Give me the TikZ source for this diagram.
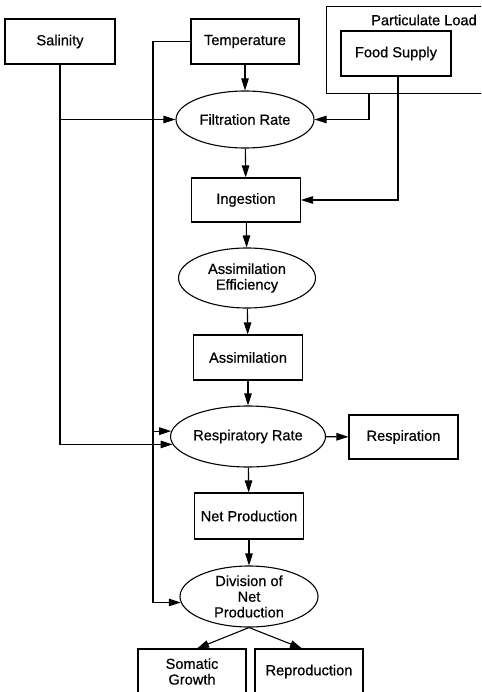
\documentclass[tikz,border=0pt]{standalone}
\usepackage{fontspec}
\setmainfont[FakeBold=0.6]{Liberation Sans}
\usetikzlibrary{shapes.geometric,arrows.meta}
\begin{document}
\begin{tikzpicture}[x=1pt,y=-1pt,line width=1.1pt,font=\fontsize{14.6}{15.7}\selectfont]
\tikzstyle{box}=[draw,rectangle,minimum width=109,minimum height=45,inner sep=0,align=center]
\tikzstyle{rate}=[draw,ellipse,minimum width=137,minimum height=60,inner sep=0,align=center]
\tikzstyle{arr}=[-{Triangle[length=12pt,width=7.5pt]}]
\useasboundingbox (0,0) rectangle (481,692);
\clip (0,0) rectangle (481,692);
\node[box,minimum width=110] at (60,41.5) (salinity) {Salinity};
\node[box,minimum width=108] at (245,41.5) (temp) {Temperature};
\node[rectangle,minimum width=220,minimum height=86] at (437,50) (load) {};
\draw (load.north east) -- (load.north west) -- (load.south west) -- (load.south east);
\node at (424,20) (loadtext) {Particulate Load};
\node[box,minimum width=110] at (396,53.5) (food) {Food Supply};
\node[rate,minimum width=138,minimum height=57] at (245,119.5) (filt) {Filtration Rate};
\node[box,minimum height=44] at (246,200) (ingest) {Ingestion};
\node[rate] at (247,278) (assimeff) {Assimilation\\Efficiency};
\node[box] at (248,357.5) (assim) {Assimilation};
\node[rate,minimum height=61] at (248,436.5) (resprate) {Respiratory Rate};
\node[box,minimum height=44] at (403.5,437) (resp) {Respiration};
\node[box,minimum height=46] at (249,516) (netprod) {Net Production};
\node[rate,minimum width=138,minimum height=61] at (249,596.5) (division) {Division of\\Net\\Production};
\node[box,minimum width=108] at (192,671.5) (somatic) {Somatic\\Growth};
\node[box,minimum width=108] at (309,671.5) (repro) {Reproduction};
\coordinate (tbend) at (153,41.5);
\draw[arr] (temp) -- (filt);
\draw[arr] (salinity.south) |- (resprate.186);
\draw[arr] (salinity.south |- filt.west) -- (filt.west);
\draw[arr] (temp.west) -- (tbend) |- (division.185);
\draw[arr] (tbend |- resprate.176) -- (resprate.176);
\draw[arr] ([xshift=-68pt]load.south) |- (filt.east);
\draw[arr] ([xshift=2pt]food.south) |- (ingest.east);
\draw[arr] (filt) -- (ingest);
\draw[arr] (ingest) -- (assimeff);
\draw[arr] (assimeff) -- (assim);
\draw[arr] (assim) -- (resprate);
\draw[arr] (resprate) -- (resp);
\draw[arr] (resprate) -- (netprod);
\draw[arr] (netprod) -- (division);
\draw[arr] (division.south) -- ([xshift=5pt]somatic.north);
\draw[arr] (division.south) -- ([xshift=-7pt]repro.north);
\end{tikzpicture}
\end{document}
